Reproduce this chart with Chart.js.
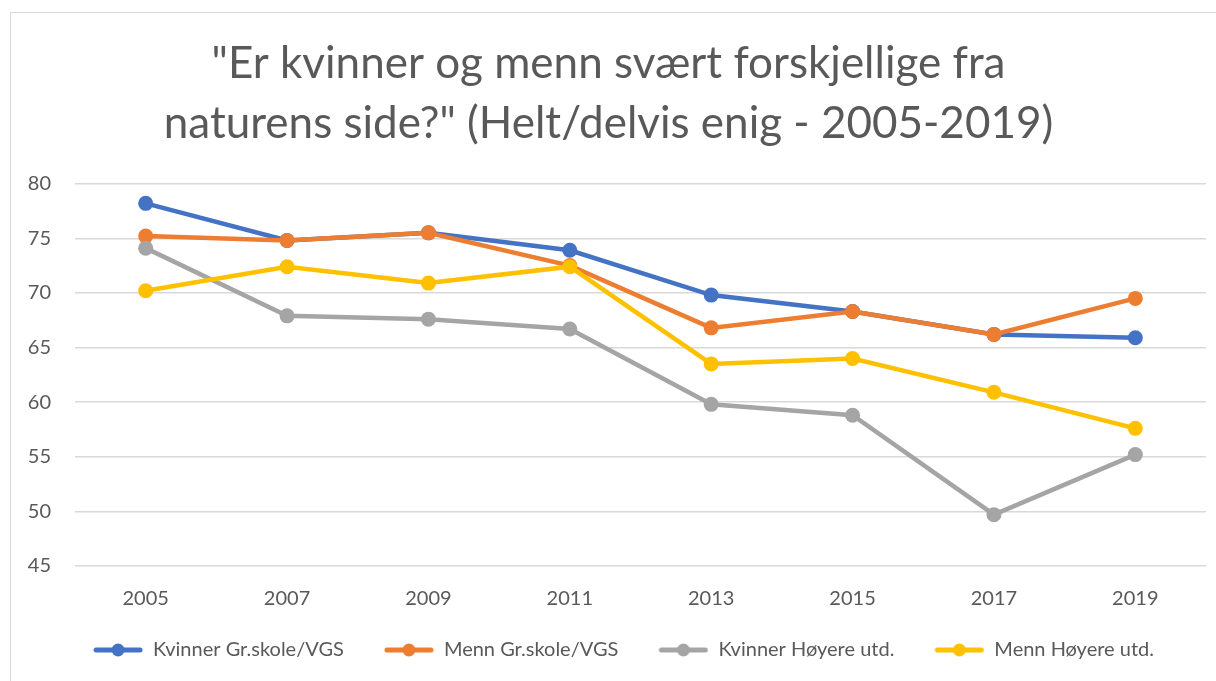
<!DOCTYPE html>
<html>
<head>
<meta charset="utf-8">
<script src="https://cdn.jsdelivr.net/npm/chart.js@4"></script>
<style>
  body { margin: 0; background: #fff; }
  #wrap { position: absolute; left: 10px; top: 12px; width: 1210px; height: 672px; border: 1px solid #d9d9d9; box-sizing: border-box; }
</style>
</head>
<body>
<div id="wrap"><canvas id="myChart"></canvas></div>
<script>
// years on the x axis
var years = ['2005', '2007', '2009', '2011', '2013', '2015', '2017', '2019'];

var kvinnerGrskole = [78.2, 74.8, 75.5, 73.9, 69.8, 68.3, 66.2, 65.9];
var mennGrskole = [75.2, 74.8, 75.5, 72.5, 66.8, 68.3, 66.2, 69.5];
var kvinnerHoyere = [74.1, 67.9, 67.6, 66.7, 59.8, 58.8, 49.7, 55.2];
var mennHoyere = [70.2, 72.4, 70.9, 72.4, 63.5, 64.0, 60.9, 57.6];

var seriesNames = ['Kvinner Gr.skole/VGS', 'Menn Gr.skole/VGS', 'Kvinner Høyere utd.', 'Menn Høyere utd.'];
var seriesColors = ['#4472c4', '#ed7d31', '#a5a5a5', '#ffc000'];

var yTicks = [45, 50, 55, 60, 65, 70, 75, 80];

var fontName = 'Lato, "Open Sans", sans-serif';

// line + dot legend marker, with empty space on the left as gap to the previous item
function legendIcon(color) {
    var c = document.createElement('canvas');
    c.width = 80; c.height = 16;
    var g = c.getContext('2d');
    g.strokeStyle = color;
    g.lineWidth = 5;
    g.lineCap = 'round';
    g.beginPath();
    g.moveTo(33, 8); g.lineTo(77, 8);
    g.stroke();
    g.fillStyle = color;
    g.beginPath();
    g.arc(55, 8, 6.5, 0, Math.PI * 2);
    g.fill();
    return c;
}

var allData = [kvinnerGrskole, mennGrskole, kvinnerHoyere, mennHoyere];
var datasets = allData.map(function (d, i) {
    return {
        label: seriesNames[i],
        data: d,
        borderColor: seriesColors[i],
        backgroundColor: seriesColors[i],
        borderWidth: 4.5,
        pointRadius: 7.5,
        pointHoverRadius: 7.5,
        pointBorderWidth: 0,
        tension: 0
    };
});

// draw in reverse so blue ends up on top like the original
datasets.reverse();

new Chart('myChart', {
    type: 'line',
    data: { labels: years, datasets: datasets },
    options: {
        responsive: true,
        maintainAspectRatio: false,
        animation: false,
        layout: { padding: { left: 0, right: 13, top: 0, bottom: 13 } },
        plugins: {
            title: {
                display: true,
                text: ['"Er kvinner og menn svært forskjellige fra', 'naturens side?" (Helt/delvis enig - 2005-2019)'],
                color: '#595959',
                font: { family: fontName, size: 44, weight: 'normal', lineHeight: 1.36 },
                padding: { top: 21, bottom: 30 }
            },
            legend: {
                position: 'bottom',
                reverse: true,
                labels: {
                    color: '#595959',
                    font: { family: fontName, size: 20 },
                    usePointStyle: true,
                    pointStyleWidth: 80,
                    boxHeight: 16,
                    padding: 10,
                    generateLabels: function (chart) {
                        return chart.data.datasets.map(function (ds, i) {
                            return {
                                text: ds.label,
                                pointStyle: legendIcon(ds.borderColor),
                                fillStyle: ds.borderColor,
                                strokeStyle: ds.borderColor,
                                fontColor: '#595959',
                                lineWidth: 0,
                                datasetIndex: i
                            };
                        });
                    }
                }
            },
            tooltip: { enabled: false }
        },
        scales: {
            x: {
                offset: true,
                afterFit: function (scale) { scale.height = 64; },
                grid: { display: false },
                border: { display: false },
                ticks: { color: '#595959', font: { family: fontName, size: 20 }, padding: 13 }
            },
            y: {
                min: 45,
                max: 80,
                afterBuildTicks: function (scale) {
                    scale.ticks = yTicks.map(function (v) { return { value: v }; });
                },
                afterFit: function (scale) { scale.width = 64; },
                grid: { color: '#d9d9d9', lineWidth: 1.5, drawTicks: false },
                border: { display: false },
                ticks: { color: '#595959', font: { family: fontName, size: 20 }, padding: 24 }
            }
        }
    }
});
</script>
</body>
</html>
